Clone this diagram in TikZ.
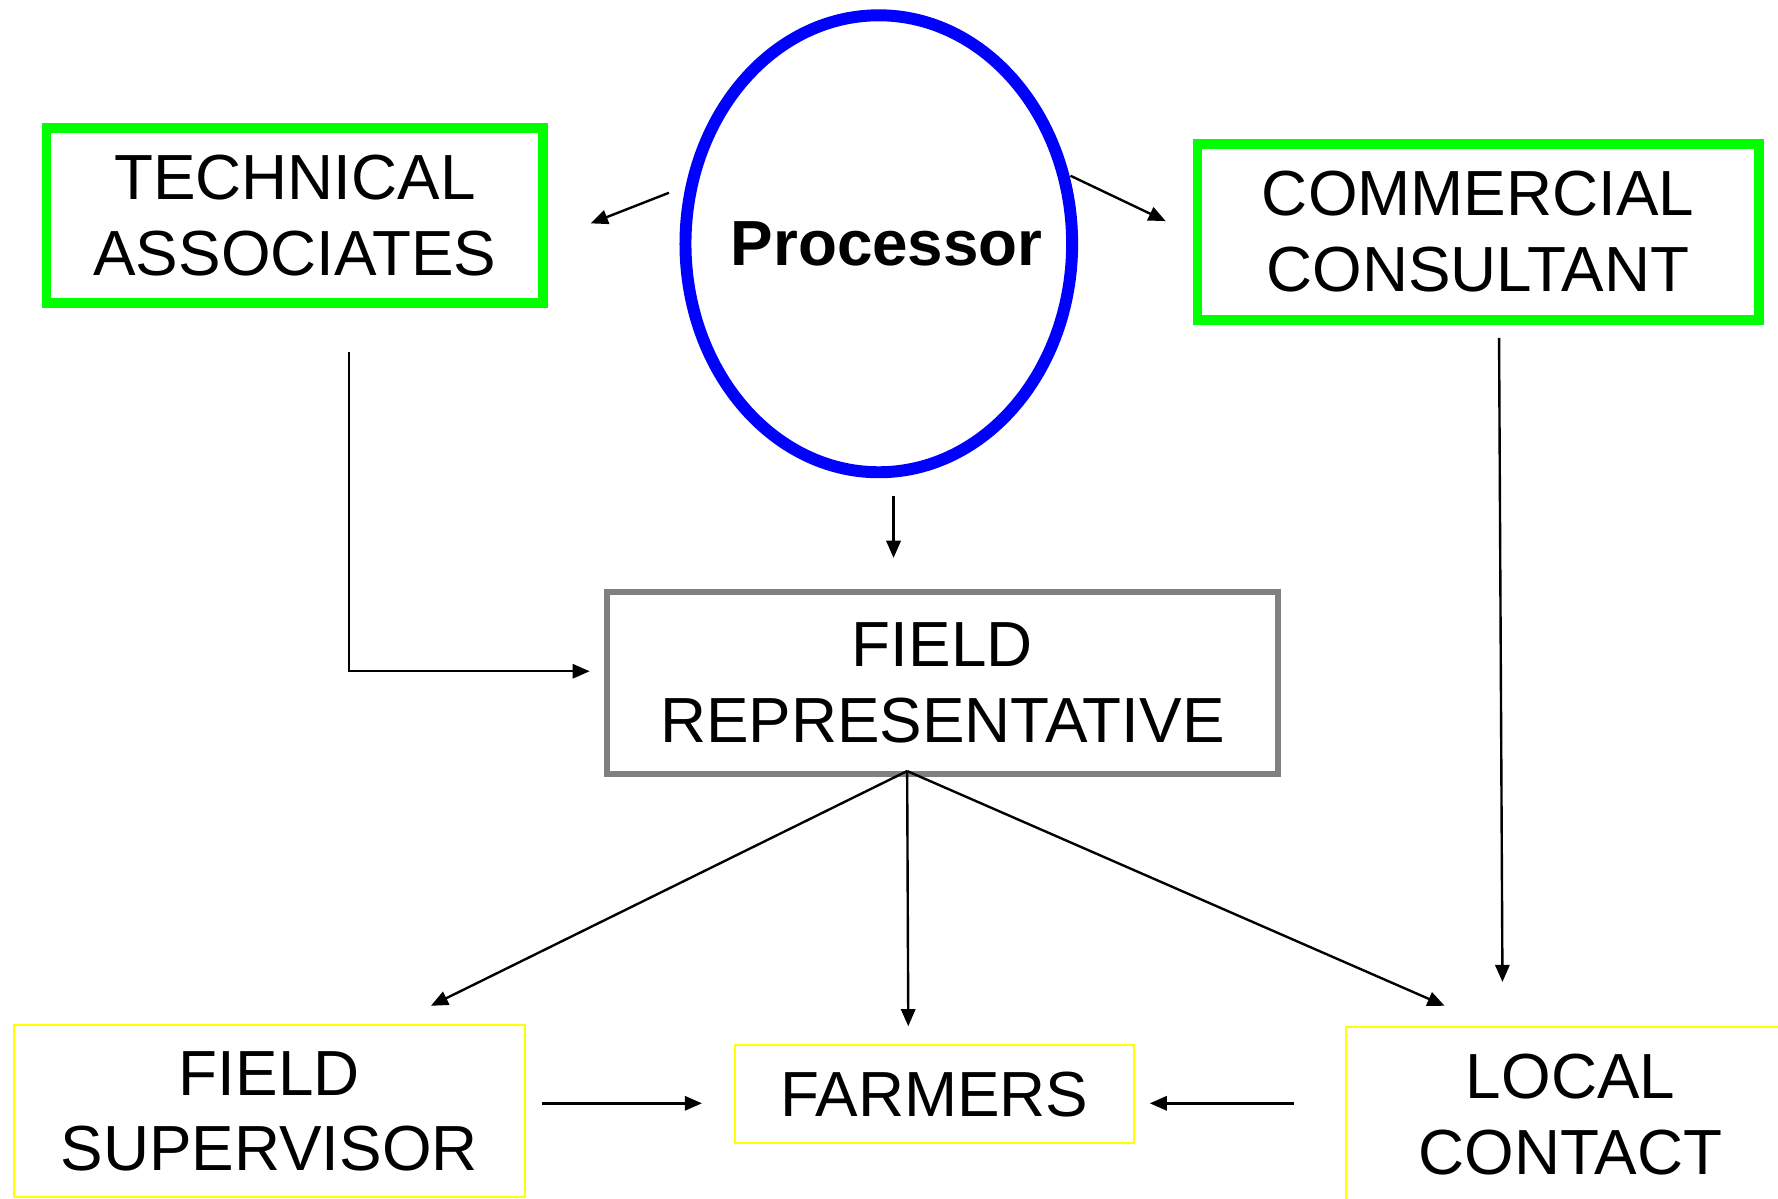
\documentclass[tikz,border=0pt]{standalone}
\usepackage{fontspec}
\setmainfont{Liberation Sans}
\usetikzlibrary{arrows.meta,shapes.geometric,positioning}

\definecolor{boxgreen}{RGB}{0,255,0}
\definecolor{boxgray}{RGB}{128,128,128}
\definecolor{boxyellow}{RGB}{255,255,0}

\begin{document}
\begin{tikzpicture}[>={Triangle[length=4.3pt,width=3.6pt]},
  every node/.style={align=center, inner sep=0pt, font=\fontsize{16}{19}\selectfont},
  greenbox/.style={draw=boxgreen, line width=2.4pt, rectangle},
  graybox/.style={draw=boxgray, line width=1.5pt, rectangle},
  yellowbox/.style={draw=boxyellow, line width=0.5pt, rectangle},
  link/.style={->, line width=0.6pt}]

\useasboundingbox (0,0) rectangle (15.68,10.57);

% Processor
\node[ellipse, draw=blue, line width=3pt, minimum width=3.41cm, minimum height=4.03cm,
  font=\fontsize{16}{19}\selectfont\bfseries] (proc) at (7.75,8.42) {\makebox[0pt]{\hspace{0.14cm}Processor}};

% Top boxes
\node[greenbox, minimum width=4.38cm, minimum height=1.54cm] (tech) at (2.60,8.67) {TECHNICAL\\ASSOCIATES};
\node[greenbox, minimum width=4.95cm, minimum height=1.55cm] (comm) at (13.035,8.525) {COMMERCIAL\\CONSULTANT};

% Field representative
\node[graybox, minimum width=5.92cm, minimum height=1.61cm] (rep) at (8.31,4.545) {FIELD\\REPRESENTATIVE};

% Bottom boxes
\node[yellowbox, minimum width=4.51cm, minimum height=1.52cm] (sup) at (2.375,0.77) {FIELD\\SUPERVISOR};
\node[yellowbox, minimum width=3.52cm, minimum height=0.86cm] (farm) at (8.24,0.92) {FARMERS};
\node[yellowbox, minimum width=3.96cm, minimum height=1.54cm] (local) at (13.85,0.74) {LOCAL\\CONTACT};

% Arrow ends
\coordinate (proc-l) at (5.90,8.87);
\coordinate (tech-r) at (5.21,8.60);
\coordinate (proc-r) at (9.44,9.02);
\coordinate (comm-l) at (10.28,8.62);
\coordinate (proc-b) at (7.88,6.20);
\coordinate (rep-t) at (7.88,5.65);
\coordinate (tech-b) at (3.08,7.47);
\coordinate (rep-l) at (5.20,4.65);
\coordinate (comm-b) at (13.22,7.59);
\coordinate (local-t) at (13.25,1.91);
\coordinate (rep-b) at (8.00,3.77);
\coordinate (sup-t) at (3.80,1.70);
\coordinate (farm-t) at (8.01,1.52);
\coordinate (local-tl) at (12.74,1.70);
\coordinate (sup-r) at (4.78,0.84);
\coordinate (farm-l) at (6.19,0.84);
\coordinate (local-l) at (11.41,0.84);
\coordinate (farm-r) at (10.14,0.84);

% From the processor
\draw[link] (proc-l) -- (tech-r);
\draw[link] (proc-r) -- (comm-l);
\draw[link] (proc-b) -- (rep-t);

% Down to field level
\draw[link] (tech-b) |- (rep-l);
\draw[link] (comm-b) -- (local-t);

% Field representative fan
\draw[link] (rep-b) -- (sup-t);
\draw[link] (rep-b) -- (farm-t);
\draw[link] (rep-b) -- (local-tl);

% Into farmers
\draw[link] (sup-r) -- (farm-l);
\draw[link] (local-l) -- (farm-r);

\end{tikzpicture}
\end{document}
